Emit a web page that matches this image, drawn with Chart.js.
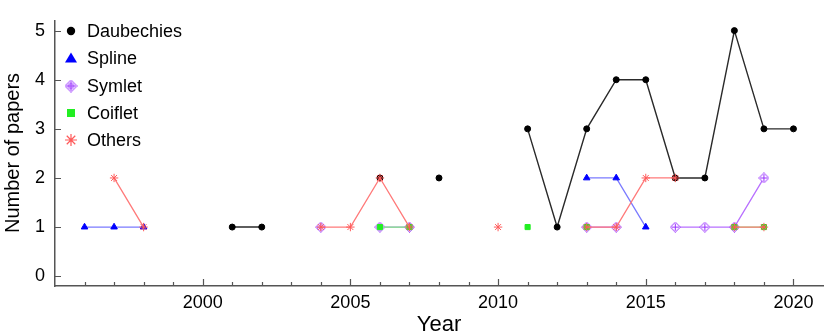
<!DOCTYPE html>
<html><head><meta charset="utf-8">
<script src="https://cdn.jsdelivr.net/npm/chart.js@4/dist/chart.umd.min.js"></script>
<style>html,body{margin:0;padding:0;background:#fff;}#wrap{width:829px;height:335px;}</style>
</head><body><div id="wrap"><canvas id="c" width="829" height="335"></canvas></div>
<script>
// ---- data ----
const years = [1996,1997,1998,1999,2000,2001,2002,2003,2004,2005,2006,2007,2008,2009,2010,2011,2012,2013,2014,2015,2016,2017,2018,2019,2020];
const daubechies = [null,null,null,null,null,1,1,null,null,null,2,null,2,null,null,3,1,3,4,4,2,2,5,3,3];
const spline     = [1,1,1,null,null,null,null,null,1,null,null,null,null,null,null,null,null,2,2,1,null,null,null,null,null];
const symlet     = [null,null,null,null,null,null,null,null,1,null,1,1,null,null,null,null,null,1,1,null,1,1,1,2,null];
const coiflet    = [null,null,null,null,null,null,null,null,null,null,1,1,null,null,null,1,null,1,null,null,null,null,1,1,null];
const others     = [null,2,1,null,null,null,null,null,1,1,2,1,null,null,1,null,null,1,1,2,2,null,1,1,null];
const seriesNames = ['Daubechies','Spline','Symlet','Coiflet','Others'];
const xTickLabels = [2000,2005,2010,2015,2020];
const yTickLabels = [0,1,2,3,4,5];

const FONT = '"Liberation Sans", Arial, sans-serif';
const pts = arr => years.map((y,i)=>({x:y, y:arr[i]}));

function diamondCross(size, color, circle){
  const c=document.createElement('canvas'); c.width=c.height=size;
  const g=c.getContext('2d'); const h=size/2;
  g.strokeStyle=color; g.lineWidth=1; g.fillStyle='#ffffff';
  g.beginPath(); g.moveTo(h,0.5); g.lineTo(size-0.5,h); g.lineTo(h,size-0.5); g.lineTo(0.5,h); g.closePath(); g.fill(); g.stroke();
  if(circle){ g.beginPath(); g.arc(h,h,size*0.2,0,Math.PI*2); g.stroke(); }
  g.beginPath(); g.moveTo(h,2); g.lineTo(h,size-2); g.moveTo(2,h); g.lineTo(size-2,h); g.stroke();
  return c;
}
const SYM_COLOR='#9a30ff';
const symSmall = diamondCross(11, SYM_COLOR, false);
const symBig = diamondCross(13, SYM_COLOR, true);

const styles = [
  {line:'#2a2a2a', lw:1.4, pt:'circle', r:3, fill:'#000', border:'#000'},
  {line:'#7b7bff', lw:1.3, pt:'triangle', r:3.8, fill:'#0000ff', border:'#0000ff'},
  {line:'#b870ff', lw:1.3, pt:symSmall, r:5, fill:SYM_COLOR, border:SYM_COLOR},
  {line:'#80f080', lw:1.3, pt:'rect', r:3.6, fill:'#22ee22', border:'#22ee22'},
  {line:'#ff7a7a', lw:1.3, pt:'star', r:4.2, fill:'#ff5050', border:'#ff5a5a'}
];
const dataArrays=[daubechies,spline,symlet,coiflet,others];

const datasets = dataArrays.map((arr,i)=>({
  label: seriesNames[i],
  data: pts(arr),
  borderColor: styles[i].line,
  borderWidth: styles[i].lw,
  backgroundColor: styles[i].fill,
  pointStyle: styles[i].pt,
  pointRadius: styles[i].r,
  pointHoverRadius: styles[i].r,
  pointBackgroundColor: styles[i].fill,
  pointBorderColor: styles[i].border,
  pointBorderWidth: 1,
  spanGaps: false,
  showLine: true,
  tension: 0,
  order: 5-i
}));

const AXIS_COLOR='#555';

const tickPlugin = {
  id:'ticksAndText',
  afterDraw(chart){
    const ctx=chart.ctx, xs=chart.scales.x, ys=chart.scales.y, ca=chart.chartArea;
    ctx.save();
    ctx.strokeStyle=AXIS_COLOR; ctx.lineWidth=1.2;
    ctx.beginPath();
    for(let yr=1996; yr<=2020; yr++){
      const px=Math.round(xs.getPixelForValue(yr))+0.5;
      const len = yr%5===0 ? 7 : 4;
      ctx.moveTo(px, ca.bottom); ctx.lineTo(px, ca.bottom-len);
    }
    yTickLabels.forEach(v=>{
      const py=Math.round(ys.getPixelForValue(v))+0.5;
      ctx.moveTo(ca.left, py); ctx.lineTo(ca.left+6, py);
    });
    ctx.stroke();
    ctx.fillStyle='#000';
    // x title
    ctx.font='22px '+FONT;
    ctx.textAlign='center'; ctx.textBaseline='alphabetic';
    ctx.fillText('Year', (ca.left+ca.right)/2, 331);
    // y title
    ctx.font='20px '+FONT;
    ctx.textAlign='center'; ctx.textBaseline='middle';
    ctx.translate(13,153); ctx.rotate(-Math.PI/2);
    ctx.fillText('Number of papers',0,0);
    ctx.restore();
    // legend
    ctx.save();
    const rows=[31,58,86,113,140];
    const mx=71, tx=87;
    ctx.font='18px '+FONT; ctx.textBaseline='middle'; ctx.textAlign='left'; ctx.fillStyle='#000';
    rows.forEach((ry,i)=>{
      ctx.save();
      if(i===0){ ctx.fillStyle='#000'; ctx.beginPath(); ctx.arc(mx,ry,4.2,0,Math.PI*2); ctx.fill(); }
      if(i===1){ ctx.fillStyle='#0000ff'; ctx.beginPath(); ctx.moveTo(mx,ry-5.5); ctx.lineTo(mx+6,ry+4.5); ctx.lineTo(mx-6,ry+4.5); ctx.closePath(); ctx.fill(); }
      if(i===2){ ctx.drawImage(symBig, mx-6.5, ry-6.5); }
      if(i===3){ ctx.fillStyle='#22ee22'; ctx.fillRect(mx-4,ry-4,8,8); }
      if(i===4){ ctx.strokeStyle='#ff5a5a'; ctx.lineWidth=1.2; ctx.beginPath();
        const r=6; for(let k=0;k<4;k++){ const a=k*Math.PI/4; ctx.moveTo(mx+r*Math.cos(a),ry+r*Math.sin(a)); ctx.lineTo(mx-r*Math.cos(a),ry-r*Math.sin(a)); }
        ctx.stroke(); }
      ctx.restore();
      ctx.fillStyle='#000';
      ctx.fillText(seriesNames[i], tx, ry+1);
    });
    ctx.restore();
  }
};

new Chart(document.getElementById('c'), {
  type:'line',
  data:{datasets},
  options:{
    responsive:false, animation:false, devicePixelRatio:1,
    layout:{padding:{top:2,right:2,left:0,bottom:0}},
    plugins:{legend:{display:false}, tooltip:{enabled:false}},
    scales:{
      x:{
        type:'linear', position:'bottom', min:1995, max:2021,
        afterBuildTicks: s=>{ s.ticks = xTickLabels.map(v=>({value:v})); },
        afterFit: s=>{ s.height=49; },
        grid:{drawOnChartArea:false, drawTicks:false},
        border:{display:true, color:AXIS_COLOR, width:1.5},
        ticks:{font:{family:FONT,size:18}, color:'#000', padding:6, maxRotation:0, autoSkip:false,
               callback: v=>String(v)},
        title:{display:false}
      },
      y:{
        type:'linear', min:-0.2, max:5.2,
        afterBuildTicks: s=>{ s.ticks = yTickLabels.map(v=>({value:v})); },
        afterFit: s=>{ s.width=55; },
        grid:{drawOnChartArea:false, drawTicks:false},
        border:{display:true, color:AXIS_COLOR, width:1.5},
        ticks:{font:{family:FONT,size:18}, color:'#000', padding:10, callback:v=>String(v)}
      }
    }
  },
  plugins:[tickPlugin]
});
</script></body></html>
